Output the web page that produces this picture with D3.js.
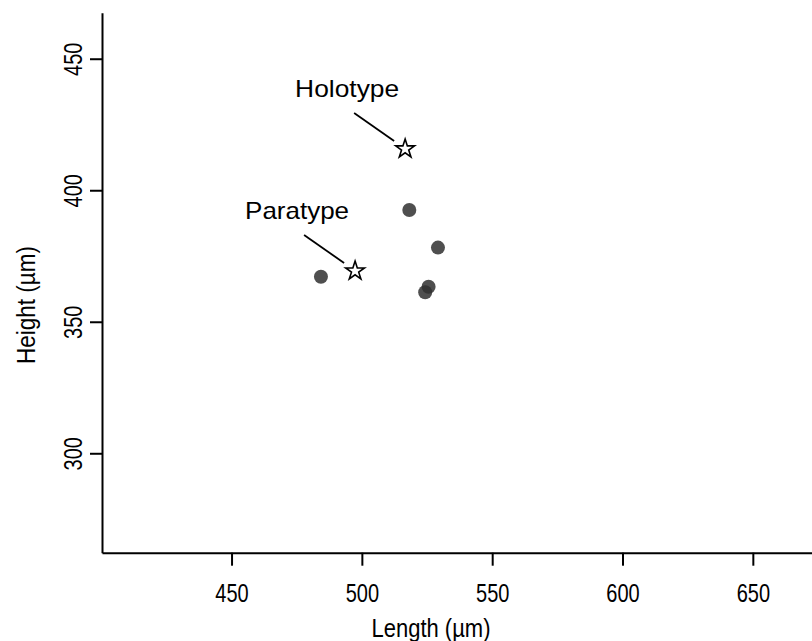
<!DOCTYPE html>
<html>
<head>
<meta charset="utf-8">
<script src="https://cdn.jsdelivr.net/npm/d3@7"></script>
<style>
  html, body { margin: 0; padding: 0; background: #fff; }
  svg { display: block; font-family: "Liberation Sans", Arial, Helvetica, sans-serif; }
</style>
</head>
<body>
<svg id="chart" width="812" height="641"></svg>
<script>
// Shell measurements: length vs height (µm)
const specimenLength = [518.2, 529.2, 525.6, 524.3, 484.3];
const specimenHeight = [392.5, 378.2, 363.3, 361.2, 367.1];

// Type specimens
const typeNames  = ["Holotype", "Paratype"];
const typeLength = [516.6, 497.4];
const typeHeight = [415.7, 369.3];

const xTicks = [450, 500, 550, 600, 650];
const yTicks = [300, 350, 400, 450];

const axisFont = "'Liberation Sans', Arial, sans-serif";

const svg = d3.select("#chart");

const x = d3.scaleLinear().domain([400.3, 672.7]).range([102, 812]);
const y = d3.scaleLinear().domain([262.2, 467.5]).range([552.7, 12.7]);

// Axes
const xAxis = d3.axisBottom(x).tickValues(xTicks).tickSize(13).tickSizeOuter(0);
const yAxis = d3.axisLeft(y).tickValues(yTicks).tickSize(12).tickSizeOuter(0);

const gx = svg.append("g").attr("transform", `translate(0,${y.range()[0]})`).call(xAxis);
gx.select(".domain").attr("stroke", "#000").attr("stroke-width", 2);
gx.selectAll(".tick line").attr("stroke", "#000").attr("stroke-width", 2);
gx.selectAll(".tick text")
  .attr("fill", "#000").attr("font-size", 25)
  .attr("font-family", axisFont)
  .attr("y", 49).attr("dy", null)
  .attr("transform", "scale(0.8,1)");

const gy = svg.append("g").attr("transform", `translate(${x.range()[0]},0)`).call(yAxis);
gy.select(".domain").attr("stroke", "#000").attr("stroke-width", 2);
gy.selectAll(".tick line").attr("stroke", "#000").attr("stroke-width", 2);
gy.selectAll(".tick text")
  .attr("fill", "#000").attr("font-size", 25)
  .attr("font-family", axisFont)
  .attr("x", null).attr("dy", null)
  .attr("text-anchor", "middle")
  .attr("transform", "translate(-20,0) rotate(-90) scale(0.8,1)");

// Axis titles (condensed lettering)
svg.append("text")
  .attr("transform", "translate(431,637) scale(0.88,1)")
  .attr("text-anchor", "middle").attr("font-size", 25).attr("fill", "#000")
  .attr("font-family", axisFont)
  .text("Length (µm)");

svg.append("text")
  .attr("transform", "translate(35,305) rotate(-90) scale(0.9,1)")
  .attr("text-anchor", "middle").attr("font-size", 25).attr("fill", "#000")
  .attr("font-family", axisFont)
  .text("Height (µm)");

// Specimen points
svg.append("g").selectAll("circle")
  .data(d3.range(specimenLength.length))
  .join("circle")
  .attr("cx", i => x(specimenLength[i]))
  .attr("cy", i => y(specimenHeight[i]))
  .attr("r", 7)
  .attr("fill", "#303030")
  .attr("fill-opacity", 0.85);

// Type specimens as open stars with leader lines
const star = d3.symbol().type(d3.symbolStar).size(110);
const gt = svg.append("g");
typeNames.forEach((name, i) => {
  const cx = x(typeLength[i]), cy = y(typeHeight[i]);
  gt.append("path")
    .attr("d", star())
    .attr("transform", `translate(${cx},${cy})`)
    .attr("fill", "#fff").attr("stroke", "#000").attr("stroke-width", 1.6)
    .attr("stroke-linejoin", "miter");
  gt.append("line")
    .attr("x1", cx - 51).attr("y1", cy - 36)
    .attr("x2", cx - 11).attr("y2", cy - 8)
    .attr("stroke", "#000").attr("stroke-width", 1.8);
  gt.append("text")
    .attr("x", cx - 58).attr("y", cy - 52)
    .attr("text-anchor", "middle").attr("font-size", 24).attr("fill", "#000")
    .attr("textLength", 104).attr("lengthAdjust", "spacingAndGlyphs")
    .text(name);
});
</script>
</body>
</html>
